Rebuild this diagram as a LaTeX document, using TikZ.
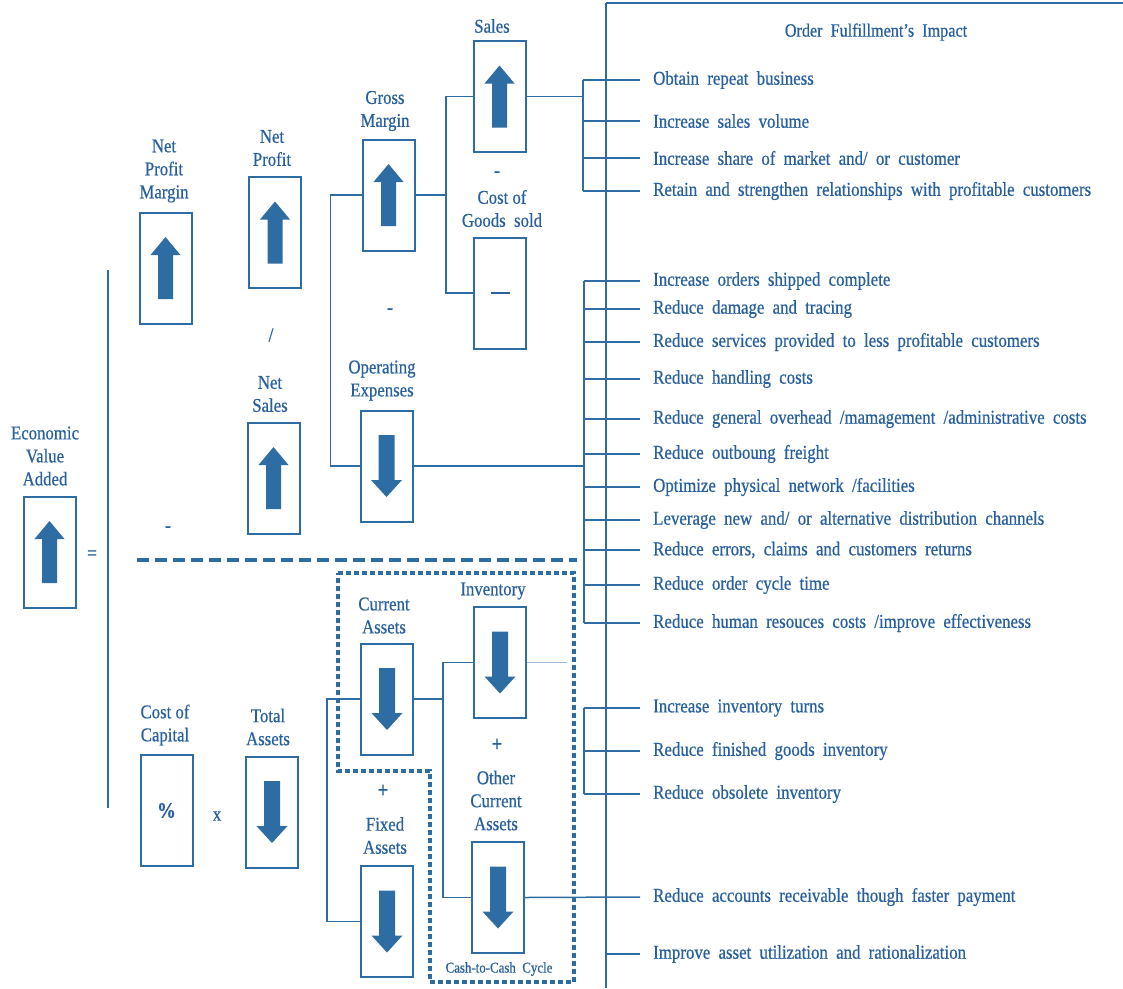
\documentclass[tikz,border=0pt]{standalone}
\usepackage{fontspec}
\setmainfont{Liberation Serif}[FakeStretch=0.86,FakeBold=0.6]
\definecolor{bl}{RGB}{46,108,164}
\definecolor{txt}{RGB}{40,96,158}
\definecolor{faint}{RGB}{160,188,220}
\newcommand\itemfnt{\fontsize{19.6}{22}\selectfont\spaceskip=0.42em plus 0.1em\relax}
\tikzset{
  uparr/.pic={\fill[bl] (-7.5,31) -- (-7.5,-13) -- (-15,-13) -- (0,-31) -- (15,-13) -- (7.5,-13) -- (7.5,31) -- cycle;},
  dnarr/.pic={\fill[bl] (-8,-31) -- (-8,14) -- (-15.5,14) -- (0,31) -- (15.5,14) -- (8,14) -- (8,-31) -- cycle;}
}
\begin{document}
\begin{tikzpicture}[x=1pt,y=-1pt,
  box/.style={draw=bl, line width=2pt, minimum width=52pt, minimum height=111pt, inner sep=0pt, text=txt},
  lbl/.style={font=\fontsize{19.5}{23}\selectfont, text=txt, align=center, inner sep=0pt},
  item/.style={font=\itemfnt, text=txt, inner sep=0pt, anchor=west},
  sym/.style={font=\fontsize{20}{20}\selectfont, text=txt, inner sep=0pt},
  plus/.style={font=\bfseries\fontsize{22}{22}\selectfont, text=txt, inner sep=0pt},
  conn/.style={draw=bl, line width=1.5pt},
  tick/.style={draw=bl, line width=1.9pt},
  faintline/.style={draw=faint, line width=1.2pt}
]
\useasboundingbox (0,0) rectangle (1123,988);

% ---------- boxes ----------
\node[box] (eva)   at (49.5,552)  {};
\node[box] (npm)   at (165.5,268) {};
\node[box] (np)    at (275,232.5) {};
\node[box] (ns)    at (273.5,478) {};
\node[box] (gm)    at (388.5,195) {};
\node[box] (opex)  at (386.5,466) {};
\node[box] (sales) at (499.5,96.5) {};
\node[box] (cogs)  at (500,293)   {\rule{19pt}{1.6pt}};
\node[box] (coc)   at (166.5,810.5) {\bfseries\fontsize{22}{22}\selectfont\%};
\node[box] (ta)    at (272,812)   {};
\node[box] (ca)    at (387,699)   {};
\node[box] (fa)    at (387,921.5) {};
\node[box] (inv)   at (500,662.5) {};
\node[box] (oca)   at (498,897.5) {};

% ---------- arrows ----------
\pic at (eva) {uparr};
\pic at (npm) {uparr};
\pic at (np) {uparr};
\pic at (ns) {uparr};
\pic at (gm) {uparr};
\pic at (sales) {uparr};
\pic at (opex) {dnarr};
\pic at (ta) {dnarr};
\pic at (ca) {dnarr};
\pic at (fa) {dnarr};
\pic at (inv) {dnarr};
\pic at (oca) {dnarr};

% ---------- labels ----------
\node[lbl] (leva)   at (45,456)    {Economic\\Value\\Added};
\node[lbl] (lnpm)   at (164,171)   {Net\\Profit\\Margin};
\node[lbl] (lnp)    at (272,148)   {Net\\Profit};
\node[lbl] (lns)    at (270,394)   {Net\\Sales};
\node[lbl] (lgm)    at (385,111)   {Gross\\Margin};
\node[lbl] (lsales) at (492,26)    {Sales};
\node[lbl] (lcogs)  at (502,208.5) {Cost of\\Goods\ \ sold};
\node[lbl] (lopex)  at (382,380.5) {Operating\\Expenses};
\node[lbl] (lcoc)   at (165,725)   {Cost of\\Capital};
\node[lbl] (lta)    at (268,727)   {Total\\Assets};
\node[lbl] (lca)    at (384,615.5) {Current\\Assets};
\node[lbl] (lfa)    at (385,835.5) {Fixed\\Assets};
\node[lbl] (linv)   at (493,591)   {Inventory};
\node[lbl] (loca)   at (496,800.5) {Other\\Current\\Assets};
\node[lbl, font=\fontsize{15}{15}\selectfont] (lc2c) at (499,969) {Cash-to-Cash\ \ Cycle};

% ---------- operators ----------
\node[sym] (s1) at (92,555)  {=};
\node[sym] (s2) at (168,529) {-};
\node[sym] (s3) at (271,335) {/};
\node[sym] (s4) at (390,311) {-};
\node[sym] (s5) at (497,174) {-};
\node[plus] (s6) at (497,745) {+};
\node[plus] (s7) at (383,791) {+};
\node[sym] (s8) at (217,816) {x};

% ---------- structural lines ----------
\draw[conn] (108,270) -- (108,808);
\draw[draw=bl, line width=4pt, dash pattern=on 12pt off 6pt] (137,560) -- (577,560);
\draw[draw=bl, line width=3.2pt, dash pattern=on 5pt off 3pt]
  (338,573) -- (574,573) -- (574,982) -- (430,982) -- (430,771) -- (338,771) -- cycle;
\draw[draw=bl, line width=1.8pt] (606,3) -- (606,988);
\draw[draw=bl, line width=1.8pt] (606,3) -- (1123,3);

% ---------- right column ----------
\node[lbl, font=\fontsize{18.8}{22}\selectfont] (title) at (876,32) {Order\ \ Fulfillment's\ \ Impact};
\node[item] (i1)  at (653,80)  {Obtain repeat business};
\node[item] (i2)  at (653,121) {Increase sales volume};
\node[item] (i3)  at (653,158) {Increase share of market and/ or customer};
\node[item] (i4)  at (653,191) {Retain and strengthen relationships with profitable customers};
\node[item] (i5)  at (653,281) {Increase orders shipped complete};
\node[item] (i6)  at (653,309) {Reduce damage and tracing};
\node[item] (i7)  at (653,342) {Reduce services provided to less profitable customers};
\node[item] (i8)  at (653,379) {Reduce handling costs};
\node[item] (i9)  at (653,419) {Reduce general overhead /mamagement /administrative costs};
\node[item] (i10) at (653,454) {Reduce outboung freight};
\node[item] (i11) at (653,487) {Optimize physical network /facilities};
\node[item] (i12) at (653,520) {Leverage new and/ or alternative distribution channels};
\node[item] (i13) at (653,550) {Reduce errors, claims and customers returns};
\node[item] (i14) at (653,585) {Reduce order cycle time};
\node[item] (i15) at (653,623) {Reduce human resouces costs /improve effectiveness};
\node[item] (i16) at (653,708) {Increase inventory turns};
\node[item] (i17) at (653,751) {Reduce finished goods inventory};
\node[item] (i18) at (653,794) {Reduce obsolete inventory};
\node[item] (i19) at (653,897) {Reduce accounts receivable though faster payment};
\node[item] (i20) at (653,954) {Improve asset utilization and rationalization};

\coordinate (k1) at (583,0);
\coordinate (k2) at (584,0);
\coordinate (mv) at (606,0);
\coordinate (sb) at (446,0);
\coordinate (ij) at (443,0);

% brackets
\draw[conn] (i1.west -| k1) -- (i4.west -| k1);
\draw[conn] (i5.west -| k2) -- (i15.west -| k2);
\draw[conn] (i16.west -| k2) -- (i18.west -| k2);
\foreach \n in {i1,i2,i3,i4} \draw[tick] (\n.west -| k1) -- ([xshift=-13pt]\n.west);
\foreach \n in {i5,i6,i7,i8,i9,i10,i11,i12,i13,i14,i15,i16,i17,i18} \draw[tick] (\n.west -| k2) -- ([xshift=-13pt]\n.west);
\draw[tick] (i20.west -| mv) -- ([xshift=-13pt]i20.west);

% ---------- connectors ----------
\draw[conn] (gm.west) -- ++(-31,0) |- (opex.west);
\draw[conn] (gm.east) -- (gm.east -| sb);
\draw[conn] (sales.west) -- (sales.west -| sb) |- (cogs.west);
\draw[conn] (sales.east) -- (sales.east -| k1);
\draw[conn] (opex.east) -- (opex.east -| k2);
\draw[conn] (ca.west) -- ++(-33,0) |- (fa.west);
\draw[conn] (ca.east) -- (ca.east -| ij);
\draw[conn] (inv.west) -- (inv.west -| ij) |- (oca.west);
\draw[faintline] (inv.east) -- ++(40,0);
\draw[conn] (oca.east) -- ([xshift=-13pt]i19.west);
\end{tikzpicture}
\end{document}
